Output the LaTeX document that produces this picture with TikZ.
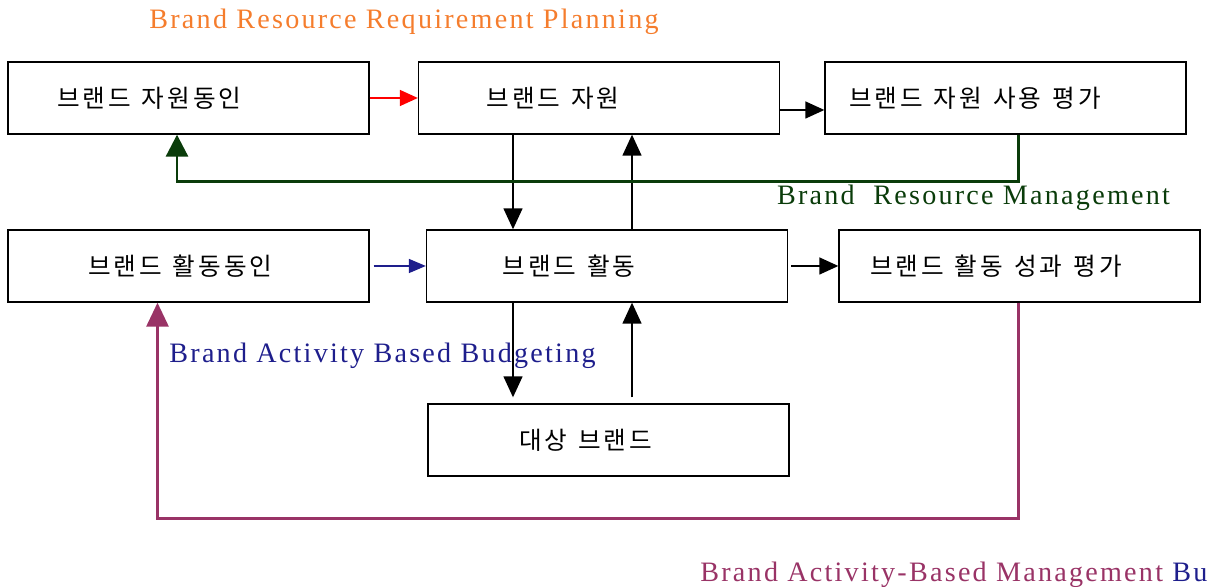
\documentclass[tikz,border=0pt]{standalone}
\usepackage{fontspec}
\setmainfont{Liberation Serif}
\newfontfamily\kr{Noto Sans CJK KR}[LetterSpace=12]
\newfontfamily\lat{Liberation Serif}[LetterSpace=8]
\newcommand\krbox{\kr\fontsize{14}{16}\selectfont}
\newcommand\gap{\hspace{0.45em}}
\usetikzlibrary{arrows.meta,calc}
\definecolor{rrporange}{RGB}{245,125,45}
\definecolor{rmgreen}{RGB}{10,60,10}
\definecolor{babnavy}{RGB}{30,30,140}
\definecolor{abmpurple}{RGB}{153,51,102}
\tikzset{
  box/.style={draw, line width=0.8pt, minimum height=1.44cm, inner xsep=#1,
    text width=7.22cm-2*#1, align=left, font={\krbox}},
  arr/.style={line width=0.8pt, -{Triangle[length=0.42cm,width=0.38cm]}},
  lbl/.style={font=\lat\fontsize{16}{18}\selectfont, inner sep=0pt}
}
\begin{document}
\begin{tikzpicture}[x=0.02cm,y=0.02cm]
\useasboundingbox (0,0) rectangle (1226,587);

% Boxes
\node[box=0.98cm] (rmotive) at (188.5,489) {브랜드\gap 자원동인};
\node[box=1.36cm] (res) at (599,489) {브랜드\gap 자원};
\node[box=0.48cm] (reseval) at (1005.5,489) {브랜드\gap 자원\gap 사용\gap 평가};
\node[box=1.6cm] (amotive) at (188.5,321) {브랜드\gap 활동동인};
\node[box=1.52cm] (act) at (607,321) {브랜드\gap 활동};
\node[box=0.62cm] (acteval) at (1019.5,321) {브랜드\gap 활동\gap 성과\gap 평가};
\node[box=1.82cm] (target) at (608.5,147) {대상\gap 브랜드};

% Vertical links
\coordinate (dn) at (513,0);
\coordinate (up) at (632,0);
\draw[arr] (res.south -| dn) -- (act.north -| dn);
\draw[arr] (act.north -| up) -- (res.south -| up);
\draw[arr, shorten >=0.12cm] (act.south -| dn) -- (target.north -| dn);
\draw[arr, shorten <=0.12cm] (target.north -| up) -- (act.south -| up);

% Horizontal links
\draw[line width=0.9pt, red, -{Triangle[length=0.36cm,width=0.32cm]}] (rmotive) -- (res);
\draw[arr, -{Triangle[length=0.38cm,width=0.34cm]}] (res.east |- 0,477) -- (reseval.west |- 0,477);
\draw[line width=0.9pt, babnavy, shorten <=0.08cm, -{Triangle[length=0.34cm,width=0.28cm]}] (amotive) -- (act);
\draw[arr, shorten <=0.06cm, -{Triangle[length=0.38cm,width=0.34cm]}] (act) -- (acteval);

% Feedback loops
\draw[line width=1.7pt, rmgreen, -{Triangle[length=0.44cm,width=0.44cm]}]
  ($(reseval.south)+(12.5,0)$) -- ++(0,-47) -| ($(rmotive.south)+(-11.5,0)$);
\draw[line width=1.7pt, abmpurple, -{Triangle[length=0.48cm,width=0.44cm]}]
  ($(acteval.south)+(-1.5,0)$) -- ++(0,-216) -| ($(amotive.south)+(-31,0)$);

% Labels
\node[lbl, text=rrporange] (rrp) at (404,565) {Brand Resource Requirement Planning};
\node[lbl, text=rmgreen] (rm) at (973.5,389) {Brand\ \ Resource Management};
\node[lbl, text=babnavy] (bab) at (382.5,231) {Brand Activity Based Budgeting};
\node[lbl, text=abmpurple, anchor=west] (abm) at (700,12) {Brand Activity-Based Management \textcolor{babnavy}{Bu}};
\end{tikzpicture}
\end{document}
